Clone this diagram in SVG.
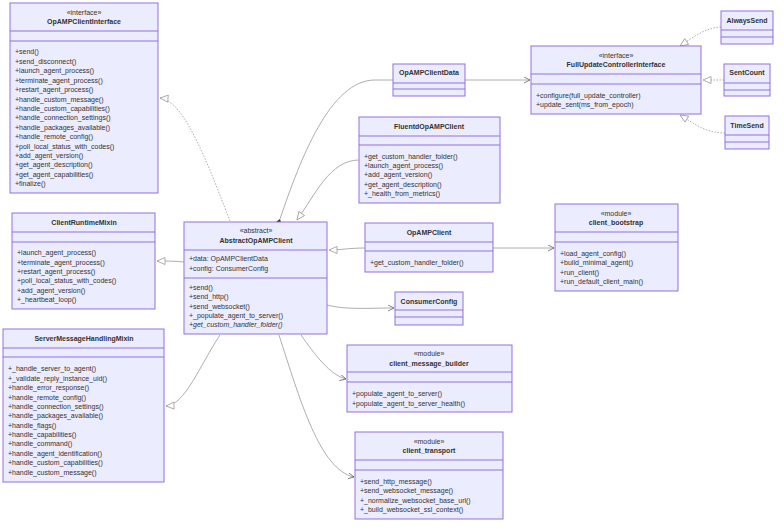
<svg xmlns="http://www.w3.org/2000/svg" width="784" height="529" viewBox="0 0 784 529">
<style>
.b{fill:#ECECFF;stroke:#9370DB;stroke-width:1}
.l{stroke:#9370DB;stroke-width:1}
text{font-family:"Liberation Sans",Arial,sans-serif;font-size:7px;fill:#333}
.n{font-weight:bold;text-anchor:middle}
.s{text-anchor:middle}
.e{fill:none;stroke:#999;stroke-width:0.8}
.d{stroke-dasharray:1.5,1.5}
</style>
<defs>
<marker id="tri" markerWidth="10" markerHeight="10" refX="9" refY="4" orient="auto" markerUnits="userSpaceOnUse"><path d="M1,0.5 L9,4 L1,7.5 Z" fill="#fff" stroke="#999" stroke-width="0.8"/></marker>
<marker id="arr" markerWidth="8" markerHeight="8" refX="6" refY="3" orient="auto" markerUnits="userSpaceOnUse"><path d="M0,0 L6,3 L0,6" fill="none" stroke="#666" stroke-width="0.8"/></marker>
<marker id="dia" markerWidth="10" markerHeight="8" refX="1" refY="3" orient="auto" markerUnits="userSpaceOnUse"><path d="M1,3 L4.5,0.5 L8,3 L4.5,5.5 Z" fill="#333"/></marker>
</defs>
<g id="edges">
<path class="e d" d="M230,221 C210,170 185,100 160,98" marker-end="url(#tri)"/>
<path class="e" d="M184,262 C175,261 165,261 157,261" marker-end="url(#tri)"/>
<path class="e" d="M220,335 C200,365 185,405 166,406" marker-end="url(#tri)"/>
<path class="e" d="M393,80 L375,80 C330,80 300,160 280,219" marker-end="url(#dia)" transform=""/>
<path class="e" d="M359,160 C330,160 315,195 297,220" marker-end="url(#tri)"/>
<path class="e" d="M365,248 C350,248 340,250 329,250" marker-end="url(#tri)"/>
<path class="e" d="M493,248 L554,248" marker-end="url(#arr)"/>
<path class="e" d="M465,80 L530,80" marker-end="url(#arr)"/>
<path class="e" d="M327,305 C345,310 370,308 394,308" marker-end="url(#arr)"/>
<path class="e" d="M301,335 C315,355 330,375 346,379" marker-end="url(#arr)"/>
<path class="e" d="M279,335 C300,400 320,470 354,477" marker-end="url(#arr)"/>
<path class="e d" d="M721,27 C705,28 695,36 680,46" marker-end="url(#tri)"/>
<path class="e d" d="M724,80 L703,80" marker-end="url(#tri)"/>
<path class="e d" d="M725,133 C705,133 695,124 680,115" marker-end="url(#tri)"/>
</g>
<g id="OpAMPClientInterface">
<rect class="b" x="10" y="3" width="148" height="190"/><line class="l" x1="10" y1="31" x2="158" y2="31"/><line class="l" x1="10" y1="41" x2="158" y2="41"/>
<text class="s" x="84" y="15">«interface»</text><text class="n" x="84" y="24">OpAMPClientInterface</text>
<text x="15" y="54">+send()</text><text x="15" y="64">+send_disconnect()</text><text x="15" y="73">+launch_agent_process()</text><text x="15" y="83">+terminate_agent_process()</text><text x="15" y="92">+restart_agent_process()</text><text x="15" y="102">+handle_custom_message()</text><text x="15" y="111">+handle_custom_capabilities()</text><text x="15" y="120">+handle_connection_settings()</text><text x="15" y="130">+handle_packages_available()</text><text x="15" y="139">+handle_remote_config()</text><text x="15" y="149">+poll_local_status_with_codes()</text><text x="15" y="158">+add_agent_version()</text><text x="15" y="167">+get_agent_description()</text><text x="15" y="177">+get_agent_capabilities()</text><text x="15" y="186">+finalize()</text>
</g>
<g id="ClientRuntimeMixin">
<rect class="b" x="12" y="213" width="143" height="96"/><line class="l" x1="12" y1="232" x2="155" y2="232"/><line class="l" x1="12" y1="242" x2="155" y2="242"/>
<text class="n" x="84" y="225">ClientRuntimeMixin</text>
<text x="17" y="255">+launch_agent_process()</text><text x="17" y="265">+terminate_agent_process()</text><text x="17" y="274">+restart_agent_process()</text><text x="17" y="283">+poll_local_status_with_codes()</text><text x="17" y="293">+add_agent_version()</text><text x="17" y="302">+_heartbeat_loop()</text>
</g>
<g id="ServerMessageHandlingMixin">
<rect class="b" x="3" y="329" width="161" height="153"/><line class="l" x1="3" y1="348" x2="164" y2="348"/><line class="l" x1="3" y1="357" x2="164" y2="357"/>
<text class="n" x="84" y="341">ServerMessageHandlingMixin</text>
<text x="8" y="371">+_handle_server_to_agent()</text><text x="8" y="381">+_validate_reply_instance_uid()</text><text x="8" y="390">+handle_error_response()</text><text x="8" y="400">+handle_remote_config()</text><text x="8" y="409">+handle_connection_settings()</text><text x="8" y="418">+handle_packages_available()</text><text x="8" y="428">+handle_flags()</text><text x="8" y="437">+handle_capabilities()</text><text x="8" y="446">+handle_command()</text><text x="8" y="456">+handle_agent_identification()</text><text x="8" y="465">+handle_custom_capabilities()</text><text x="8" y="475">+handle_custom_message()</text>
</g>
<g id="AbstractOpAMPClient">
<rect class="b" x="184" y="222" width="143" height="112"/><line class="l" x1="184" y1="250" x2="327" y2="250"/><line class="l" x1="184" y1="278" x2="327" y2="278"/>
<text class="s" x="256" y="233">«abstract»</text><text class="n" x="256" y="243">AbstractOpAMPClient</text>
<text x="189" y="261">+data: OpAMPClientData</text><text x="189" y="271">+config: ConsumerConfig</text>
<text x="189" y="290">+send()</text><text x="189" y="299">+send_http()</text><text x="189" y="309">+send_websocket()</text><text x="189" y="318">+_populate_agent_to_server()</text><text x="189" y="327" font-style="italic">+get_custom_handler_folder()</text>
</g>
<g id="OpAMPClientData">
<rect class="b" x="393" y="64" width="72" height="32"/><line class="l" x1="393" y1="83" x2="465" y2="83"/><line class="l" x1="393" y1="89" x2="465" y2="89"/>
<text class="n" x="429" y="75">OpAMPClientData</text>
</g>
<g id="FluentdOpAMPClient">
<rect class="b" x="359" y="117" width="141" height="86"/><line class="l" x1="359" y1="136" x2="500" y2="136"/><line class="l" x1="359" y1="145" x2="500" y2="145"/>
<text class="n" x="429" y="129">FluentdOpAMPClient</text>
<text x="364" y="159">+get_custom_handler_folder()</text><text x="364" y="168">+launch_agent_process()</text><text x="364" y="177">+add_agent_version()</text><text x="364" y="187">+get_agent_description()</text><text x="364" y="196">+_health_from_metrics()</text>
</g>
<g id="OpAMPClient">
<rect class="b" x="365" y="223" width="128" height="49"/><line class="l" x1="365" y1="242" x2="493" y2="242"/><line class="l" x1="365" y1="251" x2="493" y2="251"/>
<text class="n" x="429" y="235">OpAMPClient</text>
<text x="370" y="265">+get_custom_handler_folder()</text>
</g>
<g id="ConsumerConfig">
<rect class="b" x="395" y="292" width="68" height="33"/><line class="l" x1="395" y1="310" x2="463" y2="310"/><line class="l" x1="395" y1="317" x2="463" y2="317"/>
<text class="n" x="429" y="304">ConsumerConfig</text>
</g>
<g id="FullUpdateControllerInterface">
<rect class="b" x="531" y="46" width="170" height="68"/><line class="l" x1="531" y1="74" x2="701" y2="74"/><line class="l" x1="531" y1="84" x2="701" y2="84"/>
<text class="s" x="616" y="58">«interface»</text><text class="n" x="616" y="67">FullUpdateControllerInterface</text>
<text x="536" y="98">+configure(full_update_controller)</text><text x="536" y="107">+update_sent(ms_from_epoch)</text>
</g>
<g id="AlwaysSend">
<rect class="b" x="721" y="11" width="52" height="33"/><line class="l" x1="721" y1="30" x2="773" y2="30"/><line class="l" x1="721" y1="37" x2="773" y2="37"/>
<text class="n" x="747" y="23">AlwaysSend</text>
</g>
<g id="SentCount">
<rect class="b" x="724" y="64" width="46" height="32"/><line class="l" x1="724" y1="83" x2="770" y2="83"/><line class="l" x1="724" y1="90" x2="770" y2="90"/>
<text class="n" x="747" y="75">SentCount</text>
</g>
<g id="TimeSend">
<rect class="b" x="725" y="116" width="44" height="33"/><line class="l" x1="725" y1="135" x2="769" y2="135"/><line class="l" x1="725" y1="142" x2="769" y2="142"/>
<text class="n" x="747" y="128">TimeSend</text>
</g>
<g id="client_bootstrap">
<rect class="b" x="555" y="204" width="123" height="87"/><line class="l" x1="555" y1="232" x2="678" y2="232"/><line class="l" x1="555" y1="242" x2="678" y2="242"/>
<text class="s" x="616" y="216">«module»</text><text class="n" x="616" y="225">client_bootstrap</text>
<text x="560" y="256">+load_agent_config()</text><text x="560" y="265">+build_minimal_agent()</text><text x="560" y="275">+run_client()</text><text x="560" y="284">+run_default_client_main()</text>
</g>
<g id="client_message_builder">
<rect class="b" x="347" y="345" width="165" height="67"/><line class="l" x1="347" y1="372" x2="512" y2="372"/><line class="l" x1="347" y1="382" x2="512" y2="382"/>
<text class="s" x="429" y="356">«module»</text><text class="n" x="429" y="366">client_message_builder</text>
<text x="352" y="396">+populate_agent_to_server()</text><text x="352" y="406">+populate_agent_to_server_health()</text>
</g>
<g id="client_transport">
<rect class="b" x="355" y="432" width="148" height="87"/><line class="l" x1="355" y1="460" x2="503" y2="460"/><line class="l" x1="355" y1="470" x2="503" y2="470"/>
<text class="s" x="429" y="444">«module»</text><text class="n" x="429" y="453">client_transport</text>
<text x="360" y="484">+send_http_message()</text><text x="360" y="493">+send_websocket_message()</text><text x="360" y="503">+_normalize_websocket_base_url()</text><text x="360" y="512">+_build_websocket_ssl_context()</text>
</g>
</svg>
